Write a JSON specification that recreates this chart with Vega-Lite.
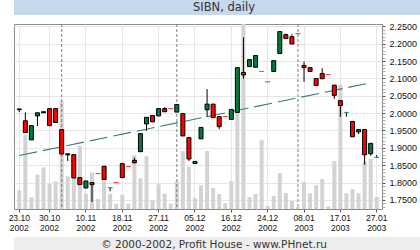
{
  "$schema": "https://vega.github.io/schema/vega-lite/v6.json",
  "background": "white",
  "padding": 0,
  "spacing": 0,
  "config": {"view": {"stroke": null}, "axis": {"labelFont": "Liberation Sans"}},
  "datasets": {
    "prices": [
      {"date": "23.10 2002", "open": 2.012, "high": 2.013, "low": 2.003, "close": 2.010, "volume": 18700, "dir": "down"},
      {"date": "24.10 2002", "open": 1.978, "high": 2.002, "low": 1.944, "close": 1.944, "volume": 74300, "dir": "down"},
      {"date": "25.10 2002", "open": 1.923, "high": 1.964, "low": 1.923, "close": 1.964, "volume": 11700, "dir": "up"},
      {"date": "28.10 2002", "open": 1.992, "high": 2.001, "low": 1.963, "close": 2.001, "volume": 34300, "dir": "up"},
      {"date": "29.10 2002", "open": 2.001, "high": 2.004, "low": 2.001, "close": 2.004, "volume": 41700, "dir": "up"},
      {"date": "30.10 2002", "open": 2.013, "high": 2.013, "low": 1.964, "close": 1.964, "volume": 25300, "dir": "down"},
      {"date": "31.10 2002", "open": 2.013, "high": 2.013, "low": 1.973, "close": 1.973, "volume": 27700, "dir": "down"},
      {"date": "01.11 2002", "open": 1.9525, "high": 1.9525, "low": 1.8824, "close": 1.8824, "volume": 108300, "dir": "down", "month_start": true},
      {"date": "04.11 2002", "open": 1.883, "high": 1.883, "low": 1.862, "close": 1.880, "volume": 32700, "dir": "down"},
      {"date": "05.11 2002", "open": 1.8805, "high": 1.8805, "low": 1.8133, "close": 1.8133, "volume": 40000, "dir": "down"},
      {"date": "06.11 2002", "open": 1.8143, "high": 1.8143, "low": 1.7941, "close": 1.7941, "volume": 63000, "dir": "down"},
      {"date": "10.11 2002", "open": 1.7845, "high": 1.8047, "low": 1.7845, "close": 1.8047, "volume": 15300, "dir": "up"},
      {"date": "11.11 2002", "open": 1.800, "high": 1.800, "low": 1.744, "close": 1.794, "volume": 36700, "dir": "down"},
      {"date": "12.11 2002", "open": 1.826, "high": 1.826, "low": 1.826, "close": 1.826, "volume": 10000, "dir": "down"},
      {"date": "13.11 2002", "open": 1.847, "high": 1.847, "low": 1.8085, "close": 1.8085, "volume": 27700, "dir": "down"},
      {"date": "14.11 2002", "open": 1.7855, "high": 1.7855, "low": 1.775, "close": 1.7855, "volume": 15300, "dir": "up"},
      {"date": "15.11 2002", "open": 1.800, "high": 1.800, "low": 1.800, "close": 1.800, "volume": 5300, "dir": "down"},
      {"date": "18.11 2002", "open": 1.8546, "high": 1.8546, "low": 1.8143, "close": 1.8143, "volume": 14300, "dir": "down"},
      {"date": "19.11 2002", "open": 1.846, "high": 1.846, "low": 1.846, "close": 1.846, "volume": 5300, "dir": "down"},
      {"date": "20.11 2002", "open": 1.8642, "high": 1.872, "low": 1.8546, "close": 1.8575, "volume": 53700, "dir": "down"},
      {"date": "21.11 2002", "open": 1.889, "high": 1.941, "low": 1.889, "close": 1.941, "volume": 30700, "dir": "up"},
      {"date": "22.11 2002", "open": 1.969, "high": 1.988, "low": 1.949, "close": 1.988, "volume": 52700, "dir": "up"},
      {"date": "25.11 2002", "open": 1.993, "high": 1.993, "low": 1.975, "close": 1.975, "volume": 8700, "dir": "down"},
      {"date": "27.11 2002", "open": 1.992, "high": 2.013, "low": 1.992, "close": 2.013, "volume": 24700, "dir": "up"},
      {"date": "28.11 2002", "open": 2.013, "high": 2.017, "low": 2.004, "close": 2.004, "volume": 15300, "dir": "down"},
      {"date": "29.11 2002", "open": 2.013, "high": 2.013, "low": 2.013, "close": 2.013, "volume": 5300, "dir": "down"},
      {"date": "02.12 2002", "open": 2.003, "high": 2.025, "low": 2.003, "close": 2.025, "volume": 27700, "dir": "up", "month_start": true},
      {"date": "03.12 2002", "open": 1.9986, "high": 1.9986, "low": 1.9343, "close": 1.9343, "volume": 57700, "dir": "down"},
      {"date": "04.12 2002", "open": 1.9295, "high": 1.9295, "low": 1.862, "close": 1.868, "volume": 42300, "dir": "down"},
      {"date": "05.12 2002", "open": 1.855, "high": 1.861, "low": 1.855, "close": 1.861, "volume": 11000, "dir": "up"},
      {"date": "06.12 2002", "open": 1.926, "high": 1.959, "low": 1.926, "close": 1.959, "volume": 23700, "dir": "up"},
      {"date": "09.12 2002", "open": 2.0096, "high": 2.069, "low": 1.9885, "close": 2.026, "volume": 58000, "dir": "up"},
      {"date": "10.12 2002", "open": 2.026, "high": 2.026, "low": 1.987, "close": 1.987, "volume": 21000, "dir": "down"},
      {"date": "11.12 2002", "open": 1.990, "high": 1.990, "low": 1.954, "close": 1.961, "volume": 15000, "dir": "down"},
      {"date": "13.12 2002", "open": 1.990, "high": 1.990, "low": 1.990, "close": 1.990, "volume": 5700, "dir": "down"},
      {"date": "16.12 2002", "open": 1.982, "high": 2.0105, "low": 1.982, "close": 2.0105, "volume": 28000, "dir": "up"},
      {"date": "17.12 2002", "open": 2.002, "high": 2.131, "low": 2.002, "close": 2.131, "volume": 100000, "dir": "up"},
      {"date": "18.12 2002", "open": 2.117, "high": 2.218, "low": 2.099, "close": 2.110, "volume": 185000, "dir": "down"},
      {"date": "19.12 2002", "open": 2.134, "high": 2.154, "low": 2.134, "close": 2.154, "volume": 12000, "dir": "up"},
      {"date": "20.12 2002", "open": 2.132, "high": 2.166, "low": 2.132, "close": 2.166, "volume": 15000, "dir": "up"},
      {"date": "23.12 2002", "open": 2.120, "high": 2.120, "low": 2.120, "close": 2.120, "volume": 68700, "dir": "up"},
      {"date": "24.12 2002", "open": 2.090, "high": 2.090, "low": 2.090, "close": 2.090, "volume": 3000, "dir": "up"},
      {"date": "25.12 2002", "open": 2.120, "high": 2.151, "low": 2.120, "close": 2.151, "volume": 13000, "dir": "up"},
      {"date": "26.12 2002", "open": 2.1715, "high": 2.2347, "low": 2.1715, "close": 2.2347, "volume": 36000, "dir": "up"},
      {"date": "27.12 2002", "open": 2.226, "high": 2.229, "low": 2.2146, "close": 2.2146, "volume": 16000, "dir": "down"},
      {"date": "30.12 2002", "open": 2.220, "high": 2.227, "low": 2.199, "close": 2.199, "volume": 8000, "dir": "down"},
      {"date": "03.01 2003", "open": 2.229, "high": 2.229, "low": 2.229, "close": 2.229, "volume": 2000, "dir": "down", "month_start": true},
      {"date": "08.01 2003", "open": 2.137, "high": 2.1485, "low": 2.090, "close": 2.131, "volume": 27000, "dir": "down"},
      {"date": "09.01 2003", "open": 2.131, "high": 2.131, "low": 2.120, "close": 2.120, "volume": 15700, "dir": "down"},
      {"date": "10.01 2003", "open": 2.0996, "high": 2.0996, "low": 2.0795, "close": 2.0795, "volume": 23700, "dir": "down"},
      {"date": "13.01 2003", "open": 2.114, "high": 2.129, "low": 2.099, "close": 2.099, "volume": 30000, "dir": "down"},
      {"date": "14.01 2003", "open": 2.111, "high": 2.111, "low": 2.111, "close": 2.111, "volume": 2700, "dir": "down"},
      {"date": "15.01 2003", "open": 2.0805, "high": 2.0805, "low": 2.041, "close": 2.051, "volume": 48000, "dir": "down"},
      {"date": "17.01 2003", "open": 2.036, "high": 2.036, "low": 1.9895, "close": 2.022, "volume": 124000, "dir": "down"},
      {"date": "20.01 2003", "open": 2.002, "high": 2.002, "low": 1.9895, "close": 2.002, "volume": 15700, "dir": "up"},
      {"date": "21.01 2003", "open": 1.976, "high": 1.976, "low": 1.932, "close": 1.932, "volume": 20000, "dir": "down"},
      {"date": "22.01 2003", "open": 1.946, "high": 1.953, "low": 1.940, "close": 1.953, "volume": 15700, "dir": "up"},
      {"date": "23.01 2003", "open": 1.953, "high": 1.953, "low": 1.8515, "close": 1.880, "volume": 47700, "dir": "down"},
      {"date": "24.01 2003", "open": 1.883, "high": 1.913, "low": 1.8774, "close": 1.913, "volume": 50000, "dir": "up"},
      {"date": "27.01 2003", "open": 1.8726, "high": 1.8793, "low": 1.8726, "close": 1.8726, "volume": 12000, "dir": "up"}
    ],
    "trend": [
      {"date": "23.10 2002", "trend": 1.878},
      {"date": "24.01 2003", "trend": 2.0875}
    ]
  },
  "vconcat": [
    {
      "width": 420,
      "height": 15,
      "view": {"fill": "#c6d8eb", "stroke": null},
      "data": {"values": [{"t": "SIBN, daily"}]},
      "mark": {"type": "text", "font": "DejaVu Sans", "fontSize": 11.5, "color": "#333333"},
      "encoding": {"text": {"field": "t", "type": "nominal"}}
    },
    {
      "width": 368,
      "height": 185,
      "view": {"stroke": "#8c8c8c", "strokeWidth": 1, "fill": "white"},
      "data": {"name": "prices"},
      "encoding": {
        "x": {
          "field": "date",
          "type": "ordinal",
          "scale": {
            "type": "band",
            "paddingInner": 0,
            "paddingOuter": 0.37,
            "domain": ["23.10 2002","24.10 2002","25.10 2002","28.10 2002","29.10 2002","30.10 2002","31.10 2002","01.11 2002","04.11 2002","05.11 2002","06.11 2002","10.11 2002","11.11 2002","12.11 2002","13.11 2002","14.11 2002","15.11 2002","18.11 2002","19.11 2002","20.11 2002","21.11 2002","22.11 2002","25.11 2002","27.11 2002","28.11 2002","29.11 2002","02.12 2002","03.12 2002","04.12 2002","05.12 2002","06.12 2002","09.12 2002","10.12 2002","11.12 2002","13.12 2002","16.12 2002","17.12 2002","18.12 2002","19.12 2002","20.12 2002","23.12 2002","24.12 2002","25.12 2002","26.12 2002","27.12 2002","30.12 2002","03.01 2003","08.01 2003","09.01 2003","10.01 2003","13.01 2003","14.01 2003","15.01 2003","17.01 2003","20.01 2003","21.01 2003","22.01 2003","23.01 2003","24.01 2003","27.01 2003"]
          },
          "axis": {
            "orient": "bottom",
            "values": ["23.10 2002","30.10 2002","10.11 2002","18.11 2002","27.11 2002","05.12 2002","16.12 2002","24.12 2002","08.01 2003","17.01 2003","27.01 2003"],
            "labelExpr": "split(datum.label, ' ')",
            "bandPosition": 0.5,
            "grid": true,
            "gridColor": "#e6e6e6",
            "gridWidth": 1,
            "ticks": true,
            "tickSize": 3,
            "tickColor": "#555555",
            "domain": false,
            "labelFontSize": 8.5,
            "labelColor": "#111111",
            "labelPadding": 1,
            "labelLineHeight": 10,
            "labelAngle": 0,
            "labelOverlap": false,
            "title": null,
            "minExtent": 27,
            "maxExtent": 27
          }
        }
      },
      "layer": [
        {
          "mark": {"type": "bar", "size": 4, "color": "#d3d3d3", "clip": true},
          "encoding": {
            "x": {
              "field": "date",
              "type": "ordinal",
              "scale": {
                "type": "band",
                "paddingInner": 0,
                "paddingOuter": 0.37,
                "domain": ["23.10 2002","24.10 2002","25.10 2002","28.10 2002","29.10 2002","30.10 2002","31.10 2002","01.11 2002","04.11 2002","05.11 2002","06.11 2002","10.11 2002","11.11 2002","12.11 2002","13.11 2002","14.11 2002","15.11 2002","18.11 2002","19.11 2002","20.11 2002","21.11 2002","22.11 2002","25.11 2002","27.11 2002","28.11 2002","29.11 2002","02.12 2002","03.12 2002","04.12 2002","05.12 2002","06.12 2002","09.12 2002","10.12 2002","11.12 2002","13.12 2002","16.12 2002","17.12 2002","18.12 2002","19.12 2002","20.12 2002","23.12 2002","24.12 2002","25.12 2002","26.12 2002","27.12 2002","30.12 2002","03.01 2003","08.01 2003","09.01 2003","10.01 2003","13.01 2003","14.01 2003","15.01 2003","17.01 2003","20.01 2003","21.01 2003","22.01 2003","23.01 2003","24.01 2003","27.01 2003"]
              },
              "axis": {"orient": "top", "labels": false, "ticks": false, "domain": false, "grid": false, "title": null, "minExtent": 8, "maxExtent": 8}
            },
            "y": {
              "field": "volume",
              "type": "quantitative",
              "scale": {"domain": [0, 185000], "nice": false, "zero": true},
              "axis": {"orient": "left", "labels": false, "ticks": false, "domain": false, "grid": false, "title": null, "minExtent": 13, "maxExtent": 13}
            }
          }
        },
        {
          "encoding": {
            "y": {
              "type": "quantitative",
              "scale": {"domain": [1.724, 2.2566], "nice": false, "zero": false},
              "axis": {
                "orient": "right",
                "values": [1.73,1.74,1.75,1.76,1.77,1.78,1.79,1.8,1.81,1.82,1.83,1.84,1.85,1.86,1.87,1.88,1.89,1.9,1.91,1.92,1.93,1.94,1.95,1.96,1.97,1.98,1.99,2.0,2.01,2.02,2.03,2.04,2.05,2.06,2.07,2.08,2.09,2.1,2.11,2.12,2.13,2.14,2.15,2.16,2.17,2.18,2.19,2.2,2.21,2.22,2.23,2.24,2.25],
                "labelExpr": "abs(datum.value*20 - round(datum.value*20)) < 0.001 ? format(datum.value, '.4f') : ''",
                "grid": true,
                "gridColor": "#e6e6e6",
                "gridOpacity": {"condition": {"test": "abs(datum.value*20 - round(datum.value*20)) < 0.001", "value": 1}, "value": 0},
                "tickSize": 3,
                "tickColor": {"condition": {"test": "abs(datum.value*20 - round(datum.value*20)) < 0.001", "value": "#555555"}, "value": "#aaaaaa"},
                "domain": false,
                "labelPadding": 4,
                "labelFontSize": 9,
                "labelColor": "#111111",
                "labelOverlap": false,
                "labelFlush": false,
                "title": null
              }
            }
          },
          "layer": [
            {
              "transform": [{"filter": "datum.month_start"}],
              "mark": {"type": "rule", "color": "#7f7f7f", "strokeDash": [3, 2], "strokeWidth": 1},
              "encoding": {}
            },
            {
              "data": {"name": "trend"},
              "mark": {"type": "line", "color": "#3a7b7b", "strokeWidth": 1.1, "strokeDash": [18, 6]},
              "encoding": {"y": {"field": "trend"}}
            },
            {
              "mark": {"type": "rule", "color": "black", "strokeWidth": 1},
              "encoding": {"y": {"field": "low"}, "y2": {"field": "high"}}
            },
            {
              "transform": [{"filter": "datum.open != datum.close"}],
              "mark": {"type": "bar", "size": 4, "stroke": "black", "strokeWidth": 1},
              "encoding": {
                "y": {"field": "open"},
                "y2": {"field": "close"},
                "color": {"field": "dir", "type": "nominal", "scale": {"domain": ["up", "down"], "range": ["#007a3d", "#ff0000"]}, "legend": null}
              }
            },
            {
              "transform": [{"filter": "datum.open == datum.close"}],
              "mark": {"type": "tick", "orient": "horizontal", "size": 5, "thickness": 1.2},
              "encoding": {
                "y": {"field": "close"},
                "color": {"field": "dir", "type": "nominal", "scale": {"domain": ["up", "down"], "range": ["#007a3d", "#ff0000"]}, "legend": null}
              }
            }
          ]
        }
      ],
      "resolve": {"scale": {"y": "independent"}, "axis": {"y": "independent"}}
    },
    {
      "width": 420,
      "height": 15,
      "view": {"fill": "#eeeeee", "stroke": null},
      "data": {"values": [{"t": "© 2000-2002, Profit House - www.PHnet.ru"}]},
      "mark": {"type": "text", "font": "DejaVu Sans", "fontSize": 10.5, "color": "#333333", "dx": -10},
      "encoding": {"text": {"field": "t", "type": "nominal"}}
    }
  ]
}
